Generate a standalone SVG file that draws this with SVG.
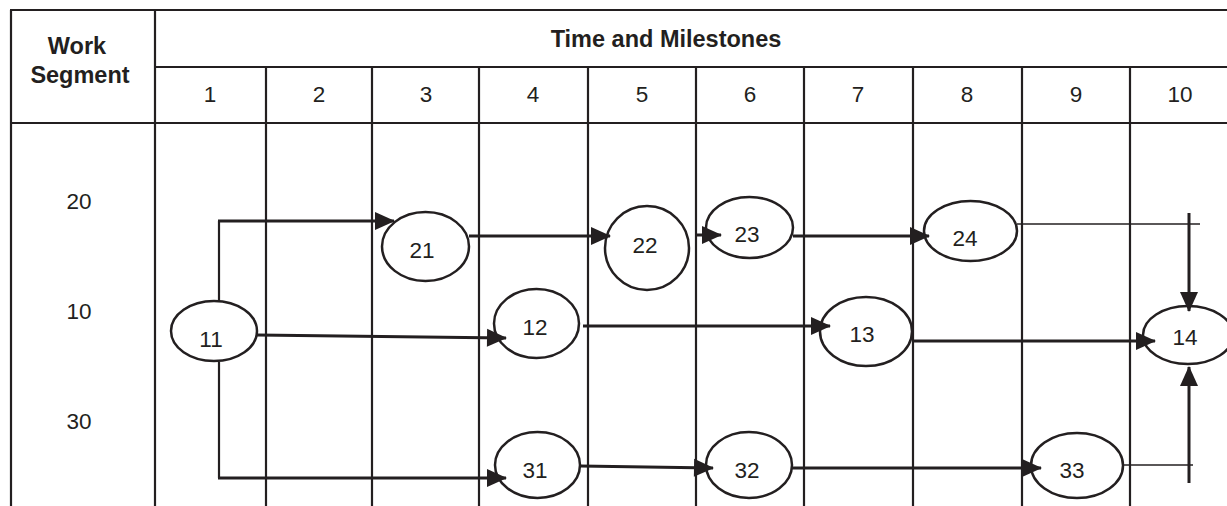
<svg xmlns="http://www.w3.org/2000/svg" width="1227" height="506" viewBox="0 0 1227 506">
<style>
.grid{stroke:#231f20;stroke-width:2.2;fill:none}
.node ellipse{fill:none;stroke:#231f20;stroke-width:2.5}
.t{font-family:"Liberation Sans",Arial,sans-serif;font-size:22.5px;fill:#231f20;text-anchor:middle}
.h{font-family:"Liberation Sans",Arial,sans-serif;font-size:23.5px;font-weight:bold;fill:#231f20;text-anchor:middle}
.thick{stroke:#231f20;stroke-width:3;fill:none}
.thin{stroke:#231f20;stroke-width:1.6;fill:none}
.mid{stroke:#231f20;stroke-width:2.2;fill:none}
</style>
<defs>
<marker id="ah" markerUnits="userSpaceOnUse" markerWidth="20" markerHeight="18" refX="19" refY="9" orient="auto" overflow="visible">
<path d="M0,0 L20,9 L0,18 Z" fill="#231f20"/>
</marker>
</defs>
<rect width="1227" height="506" fill="#fff"/>
<g id="table">
<line class="grid" x1="10" y1="10" x2="1227" y2="10"/>
<line class="grid" x1="11" y1="10" x2="11" y2="506"/>
<line class="grid" x1="155" y1="10" x2="155" y2="506"/>
<line class="grid" x1="155" y1="67" x2="1227" y2="67"/>
<line class="grid" x1="10" y1="123" x2="1227" y2="123"/>
<line class="grid" x1="266" y1="67" x2="266" y2="506"/>
<line class="grid" x1="372" y1="67" x2="372" y2="506"/>
<line class="grid" x1="479" y1="67" x2="479" y2="506"/>
<line class="grid" x1="588" y1="67" x2="588" y2="506"/>
<line class="grid" x1="696" y1="67" x2="696" y2="506"/>
<line class="grid" x1="804" y1="67" x2="804" y2="506"/>
<line class="grid" x1="913" y1="67" x2="913" y2="506"/>
<line class="grid" x1="1022" y1="67" x2="1022" y2="506"/>
<line class="grid" x1="1130" y1="67" x2="1130" y2="506"/>
<text class="h" x="77" y="54">Work</text>
<text class="h" x="80" y="83">Segment</text>
<text class="h" x="666" y="47">Time and Milestones</text>
<text class="t" x="210" y="102">1</text>
<text class="t" x="319" y="102">2</text>
<text class="t" x="426" y="102">3</text>
<text class="t" x="533" y="102">4</text>
<text class="t" x="642" y="102">5</text>
<text class="t" x="750" y="102">6</text>
<text class="t" x="858" y="102">7</text>
<text class="t" x="967" y="102">8</text>
<text class="t" x="1076" y="102">9</text>
<text class="t" x="1180" y="102">10</text>
<text class="t" x="79" y="209">20</text>
<text class="t" x="79" y="319">10</text>
<text class="t" x="79" y="429">30</text>
</g>
<g id="n11" class="node"><ellipse cx="214" cy="331" rx="43" ry="30"/><text class="t" x="211" y="347">11</text></g>
<g id="n21" class="node"><ellipse cx="425.5" cy="246.5" rx="43.5" ry="34.5"/><text class="t" x="422" y="258">21</text></g>
<g id="n22" class="node"><ellipse cx="647" cy="248" rx="42" ry="42"/><text class="t" x="645" y="253">22</text></g>
<g id="n23" class="node"><ellipse cx="749.5" cy="227.5" rx="43.5" ry="30.5"/><text class="t" x="747" y="242">23</text></g>
<g id="n24" class="node"><ellipse cx="970.5" cy="231" rx="46.5" ry="30"/><text class="t" x="965" y="246">24</text></g>
<g id="n12" class="node"><ellipse cx="536.5" cy="323.5" rx="42.5" ry="34.5"/><text class="t" x="535" y="335">12</text></g>
<g id="n13" class="node"><ellipse cx="866" cy="331.5" rx="46" ry="34.5"/><text class="t" x="862" y="342">13</text></g>
<g id="n14" class="node"><ellipse cx="1188" cy="335" rx="45" ry="29"/><text class="t" x="1185" y="345">14</text></g>
<g id="n31" class="node"><ellipse cx="537.5" cy="465" rx="42.5" ry="33"/><text class="t" x="535" y="478">31</text></g>
<g id="n32" class="node"><ellipse cx="749" cy="465" rx="43" ry="33"/><text class="t" x="747" y="478">32</text></g>
<g id="n33" class="node"><ellipse cx="1077" cy="465.5" rx="46" ry="32.5"/><text class="t" x="1072" y="478">33</text></g>
<g id="connectors">
<line class="mid" x1="219" y1="301" x2="219" y2="221"/>
<line class="thick" x1="218" y1="221" x2="394" y2="221" marker-end="url(#ah)"/>
<line class="thick" x1="257" y1="335" x2="506" y2="338" marker-end="url(#ah)"/>
<line class="mid" x1="219" y1="362" x2="219" y2="478"/>
<line class="thick" x1="218" y1="478" x2="506" y2="478" marker-end="url(#ah)"/>
<line class="thick" x1="469" y1="236" x2="610" y2="236" marker-end="url(#ah)"/>
<line class="thick" x1="697" y1="235" x2="721" y2="235" marker-end="url(#ah)"/>
<line class="thick" x1="793" y1="236" x2="929" y2="236" marker-end="url(#ah)"/>
<line class="thin" x1="1017" y1="224" x2="1200" y2="224"/>
<line class="thick" x1="1189" y1="213" x2="1189" y2="311" marker-end="url(#ah)"/>
<line class="thick" x1="583" y1="326" x2="830" y2="326" marker-end="url(#ah)"/>
<line class="thick" x1="912" y1="341" x2="1155" y2="341" marker-end="url(#ah)"/>
<line class="thick" x1="580" y1="466" x2="713" y2="468" marker-end="url(#ah)"/>
<line class="thick" x1="792" y1="468" x2="1041" y2="468" marker-end="url(#ah)"/>
<line class="thin" x1="1123" y1="465" x2="1193" y2="465"/>
<line class="thick" x1="1189" y1="483" x2="1189" y2="367" marker-end="url(#ah)"/>
</g>
</svg>
